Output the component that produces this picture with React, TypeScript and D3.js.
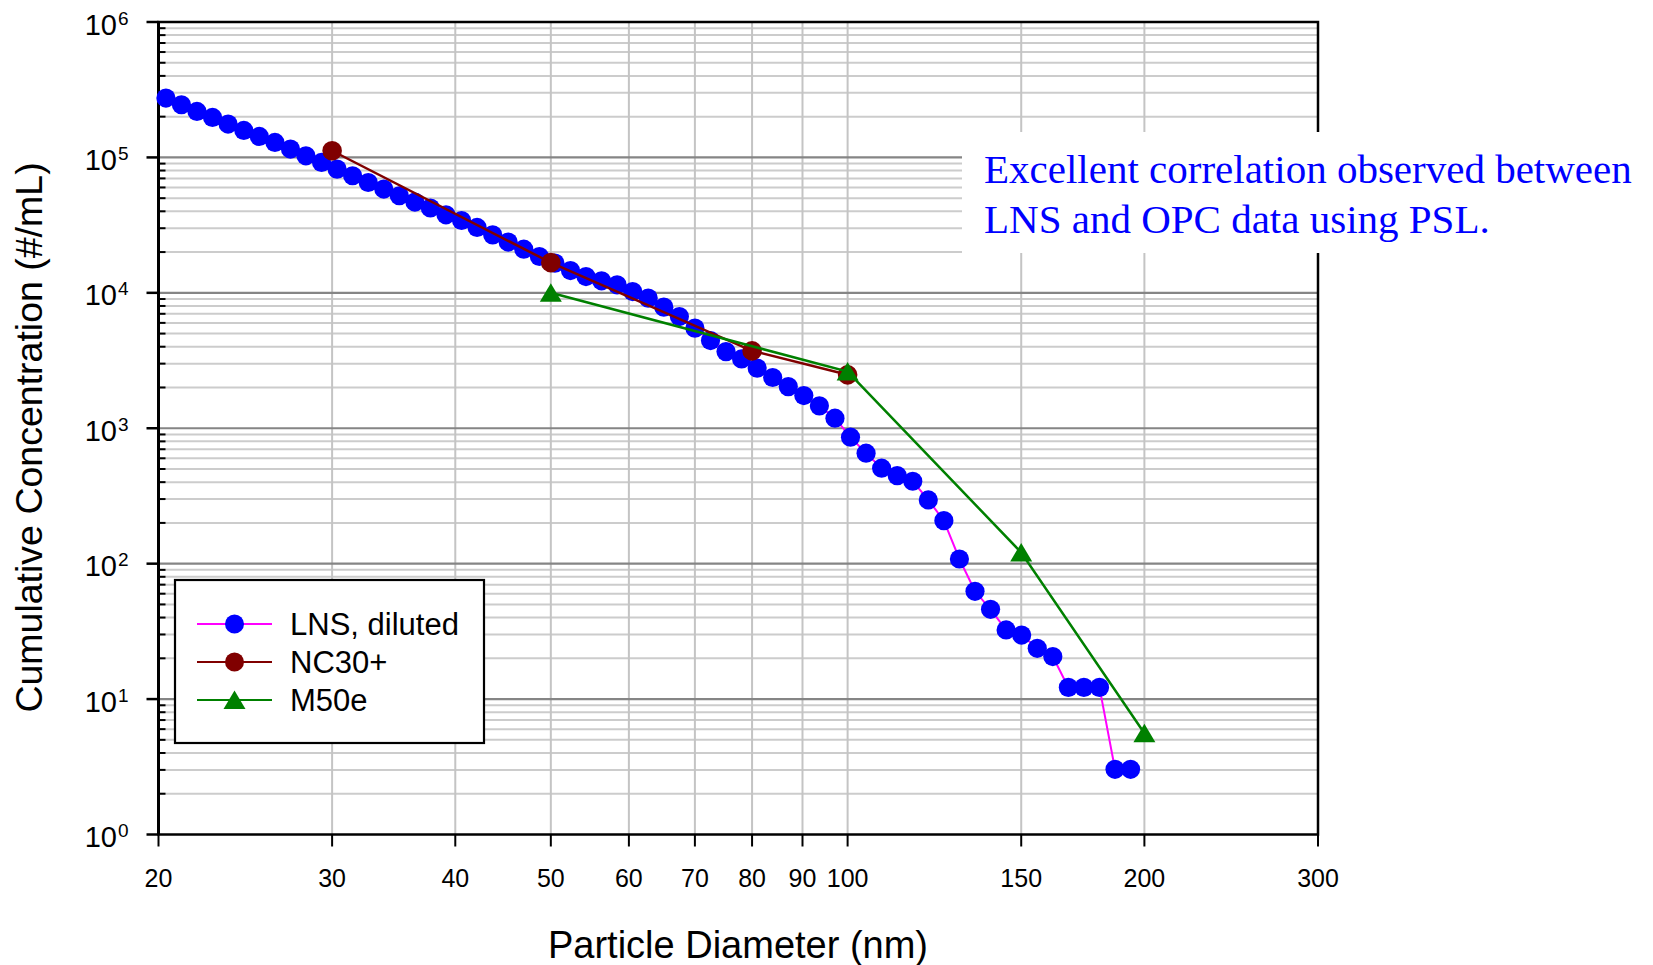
import React from 'react';
import * as d3 from 'd3';

const W = 1653;
const H = 965;
const PLOT = { left: 158.5, right: 1318, top: 22, bottom: 834.5 };

// LNS, diluted (diameter nm, cumulative concentration #/mL)
const lnsDiameter = [
  20.35, 21.10, 21.88, 22.69, 23.53, 24.41, 25.31, 26.25, 27.22, 28.22,
  29.27, 30.35, 31.47, 32.64, 33.85, 35.10, 36.40, 37.74, 39.14, 40.59,
  42.09, 43.65, 45.26, 46.94, 48.68, 50.48, 52.35, 54.28, 56.29, 58.37,
  60.53, 62.77, 65.10, 67.51, 70.00, 72.60, 75.28, 78.07, 80.96, 83.95,
  87.06, 90.28, 93.62, 97.09, 100.68, 104.41, 108.27, 112.28, 116.43, 120.74,
  125.21, 129.84, 134.65, 139.63, 144.80, 150.16, 155.72, 161.48, 167.46, 173.65,
  180.08, 186.74, 193.65,
];
const lnsConc = [
  274500, 244900, 218500, 197400, 176400, 158200, 142800, 129000, 115300, 102800,
  91800, 82000, 73200, 65300, 58400, 52100, 46800, 42300, 37700, 34200,
  30400, 26800, 23700, 21000, 18550, 16580, 14610, 13190, 12270, 11460,
  10220, 9140, 7840, 6680, 5490, 4440, 3680, 3250, 2780, 2370,
  2030, 1743, 1463, 1186, 859, 654, 507, 447, 406, 295.5,
  207.8, 108.3, 62.5, 46.0, 32.4, 29.7, 23.7, 20.6, 12.2, 12.2,
  12.2, 3.03, 3.03,
];

// NC30+
const nc30Diameter = [30, 50, 80, 100];
const nc30Conc = [112000, 16700, 3730, 2480];

// M50e
const m50eDiameter = [50, 100, 150, 200];
const m50eConc = [10000, 2620, 121, 5.6];

const xTickValues = [20, 30, 40, 50, 60, 70, 80, 90, 100, 150, 200, 300];
const xGridValues = [30, 40, 50, 60, 70, 80, 90, 100, 150, 200];
const yExponents = [0, 1, 2, 3, 4, 5, 6];
const minorMultipliers = [2, 3, 4, 5, 6, 7, 8, 9];

const legendItems = [
  { label: 'LNS, diluted', line: '#ff00ff', fill: '#0000ff', shape: 'circle' },
  { label: 'NC30+', line: '#800000', fill: '#800000', shape: 'circle' },
  { label: 'M50e', line: '#008000', fill: '#008000', shape: 'triangle' },
];

const annotationLines = [
  'Excellent correlation observed between',
  'LNS and OPC data using PSL.',
];

const SANS = '"Liberation Sans", Arial, Helvetica, sans-serif';
const SERIF = '"Liberation Serif", "Times New Roman", serif';
const TRI = 'M0,-9.5 L11,9 L-11,9 Z';

export default function App() {
  const x = d3.scaleLog().domain([20, 300]).range([PLOT.left, PLOT.right]);
  const y = d3.scaleLog().domain([1, 1e6]).range([PLOT.bottom, PLOT.top]);

  const line = d3
    .line<[number, number]>()
    .x((d) => x(d[0]))
    .y((d) => y(d[1]));

  const lnsPts: [number, number][] = lnsDiameter.map((d, i) => [d, lnsConc[i]]);
  const ncPts: [number, number][] = nc30Diameter.map((d, i) => [d, nc30Conc[i]]);
  const mPts: [number, number][] = m50eDiameter.map((d, i) => [d, m50eConc[i]]);

  const minorVals: number[] = [];
  yExponents.slice(0, -1).forEach((e) =>
    minorMultipliers.forEach((m) => minorVals.push(m * Math.pow(10, e)))
  );

  return (
    <div style={{ position: 'absolute', left: 0, top: 0 }}>
      <svg width={W} height={H} style={{ display: 'block', background: '#fff' }}>
        <rect x={0} y={0} width={W} height={H} fill="#fff" />
        {/* minor horizontal grid */}
        {minorVals.map((v) => (
          <line key={'hm' + v} x1={PLOT.left} x2={PLOT.right} y1={y(v)} y2={y(v)} stroke="#cccccc" strokeWidth={2} />
        ))}
        {/* vertical grid */}
        {xGridValues.map((v) => (
          <line key={'vg' + v} x1={x(v)} x2={x(v)} y1={PLOT.top} y2={PLOT.bottom} stroke="#c4c4c4" strokeWidth={2} />
        ))}
        {/* major horizontal grid */}
        {yExponents.slice(1, -1).map((e) => (
          <line key={'hM' + e} x1={PLOT.left} x2={PLOT.right} y1={y(Math.pow(10, e))} y2={y(Math.pow(10, e))} stroke="#858585" strokeWidth={2.2} />
        ))}

        {/* frame */}
        <rect x={PLOT.left} y={PLOT.top} width={PLOT.right - PLOT.left} height={PLOT.bottom - PLOT.top} fill="none" stroke="#000" strokeWidth={2.5} />
        <line x1={PLOT.left} x2={PLOT.left} y1={PLOT.top} y2={PLOT.bottom} stroke="#000" strokeWidth={3} />

        {/* y minor ticks (inward) */}
        {minorVals.map((v) => (
          <line key={'ymt' + v} x1={PLOT.left} x2={PLOT.left + 7} y1={y(v)} y2={y(v)} stroke="#000" strokeWidth={2} />
        ))}
        {/* y major ticks (outward) */}
        {yExponents.map((e) => (
          <line key={'yMt' + e} x1={PLOT.left - 12} x2={PLOT.left} y1={y(Math.pow(10, e))} y2={y(Math.pow(10, e))} stroke="#000" strokeWidth={2.5} />
        ))}
        {/* x ticks */}
        {xTickValues.map((v) => (
          <line key={'xt' + v} x1={x(v)} x2={x(v)} y1={PLOT.bottom} y2={PLOT.bottom + 12} stroke="#000" strokeWidth={2} />
        ))}

        {/* y tick labels */}
        {yExponents.map((e) => {
          const yy = y(Math.pow(10, e));
          return (
            <g key={'yl' + e} fontFamily={SANS} fill="#000">
              <text x={117} y={yy + 12.5} fontSize={29} textAnchor="end">10</text>
              <text x={118} y={yy + 2.5} fontSize={19}>{e}</text>
            </g>
          );
        })}
        {/* x tick labels */}
        {xTickValues.map((v) => (
          <text key={'xl' + v} x={x(v)} y={886.5} fontSize={25} fontFamily={SANS} textAnchor="middle" fill="#000">
            {v}
          </text>
        ))}

        {/* axis titles */}
        <text x={738} y={958} fontSize={38} fontFamily={SANS} textAnchor="middle" fill="#000">
          Particle Diameter (nm)
        </text>
        <text transform="translate(42,437.5) rotate(-90)" fontSize={37.5} fontFamily={SANS} textAnchor="middle" fill="#000">
          Cumulative Concentration (#/mL)
        </text>

        {/* LNS series */}
        <path d={line(lnsPts) || ''} fill="none" stroke="#ff00ff" strokeWidth={2} />
        {lnsPts.map((p, i) => (
          <circle key={'ln' + i} cx={x(p[0])} cy={y(p[1])} r={9.6} fill="#0000ff" />
        ))}

        {/* NC30+ series */}
        <path d={line(ncPts) || ''} fill="none" stroke="#800000" strokeWidth={2.5} />
        {ncPts.map((p, i) => (
          <circle key={'nc' + i} cx={x(p[0])} cy={y(p[1])} r={9.8} fill="#800000" />
        ))}

        {/* M50e series */}
        <path d={line(mPts) || ''} fill="none" stroke="#008000" strokeWidth={2.5} />
        {mPts.map((p, i) => (
          <path key={'m5' + i} d={TRI} transform={`translate(${x(p[0])},${y(p[1])})`} fill="#008000" />
        ))}

        {/* legend */}
        <rect x={175} y={580} width={309} height={163} fill="#fff" stroke="#000" strokeWidth={2.2} />
        {legendItems.map((it, i) => {
          const cy = 624 + i * 38;
          return (
            <g key={'lg' + i}>
              <line x1={197} x2={272} y1={cy} y2={cy} stroke={it.line} strokeWidth={2} />
              {it.shape === 'circle' ? (
                <circle cx={234.5} cy={cy} r={9.5} fill={it.fill} />
              ) : (
                <path d={TRI} transform={`translate(234.5,${cy})`} fill={it.fill} />
              )}
              <text x={290} y={cy + 11} fontSize={31} fontFamily={SANS} fill="#000">
                {it.label}
              </text>
            </g>
          );
        })}

        {/* annotation */}
        <rect x={962} y={132} width={W - 962} height={121} fill="#fff" />
        {annotationLines.map((t, i) => (
          <text key={'an' + i} x={984} y={183 + i * 49.5} fontSize={41} fontFamily={SERIF} fill="#0000ff">
            {t}
          </text>
        ))}
      </svg>
    </div>
  );
}
